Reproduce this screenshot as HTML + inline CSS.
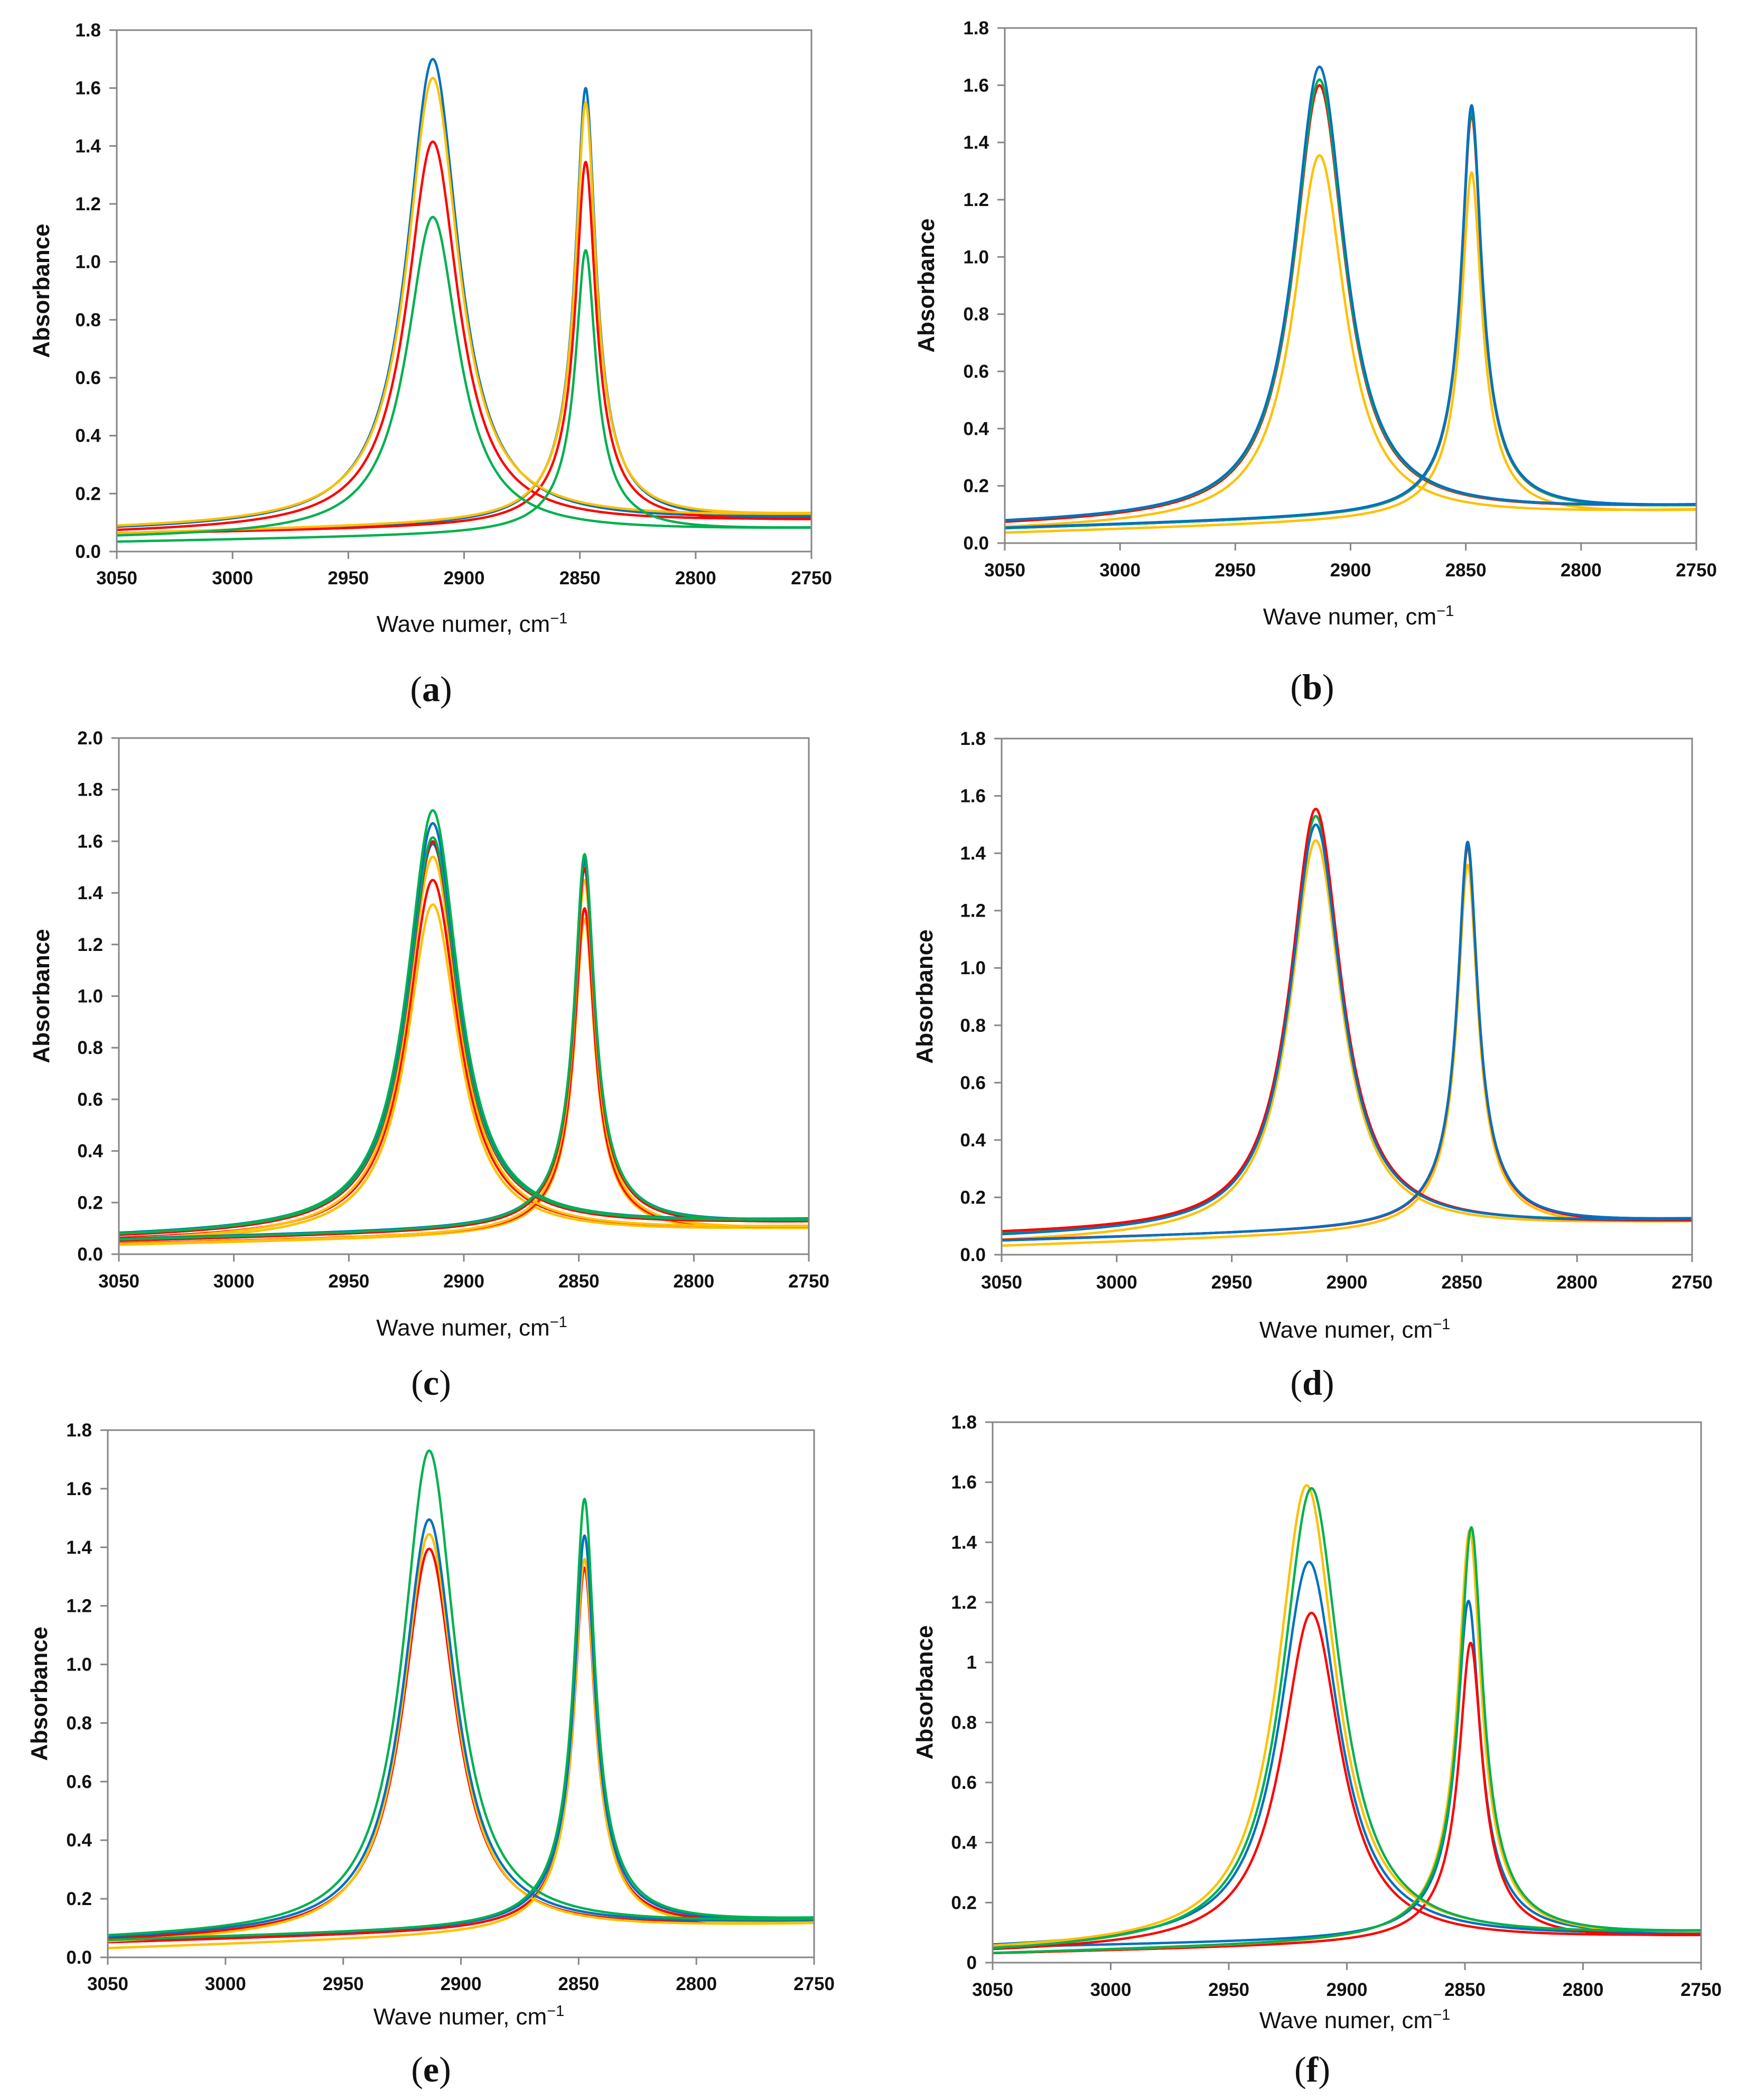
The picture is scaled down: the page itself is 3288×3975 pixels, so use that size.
<!DOCTYPE html>
<html><head><meta charset="utf-8"><style>
html,body{margin:0;padding:0;background:#fff;}
svg{display:block;}
.tick{font-family:"Liberation Sans",sans-serif;font-size:35px;font-weight:bold;fill:#111;}
.xt{font-family:"Liberation Sans",sans-serif;font-size:44px;fill:#111;}
.yt{font-family:"Liberation Sans",sans-serif;font-size:44px;font-weight:bold;fill:#111;}
.pl{font-family:"Liberation Serif",serif;font-size:68px;fill:#111;}
</style></head><body>
<svg id="fig" width="3288" height="3975" viewBox="0 0 3288 3975" xmlns="http://www.w3.org/2000/svg"></svg>
<script>
// ---- data ----
const xTicks = [3050, 3000, 2950, 2900, 2850, 2800, 2750];
const yTicks18 = [0.0, 0.2, 0.4, 0.6, 0.8, 1.0, 1.2, 1.4, 1.6, 1.8];
const yTicks20 = [0.0, 0.2, 0.4, 0.6, 0.8, 1.0, 1.2, 1.4, 1.6, 1.8, 2.0];
const yTickLabelsF = ["0", "0.2", "0.4", "0.6", "0.8", "1", "1.2", "1.4", "1.6", "1.8"];

// panel a
const a_colors = ["blue", "red", "yellow", "green"];
const a_broadPeak = [1.70, 1.415, 1.635, 1.155];
const a_narrowPeak = [1.60, 1.345, 1.55, 1.04];
const a_broadBaseL = [0.070, 0.062, 0.075, 0.045];
const a_broadBaseR = [0.110, 0.105, 0.120, 0.075];
const a_narrowBaseL = [0.060, 0.060, 0.062, 0.033];
const a_narrowBaseR = [0.115, 0.105, 0.125, 0.078];
// panel b
const b_colors = ["yellow", "red", "green", "blue"];
const b_broadPeak = [1.355, 1.60, 1.62, 1.665];
const b_narrowPeak = [1.295, 1.495, 1.51, 1.53];
const b_broadBaseL = [0.045, 0.060, 0.065, 0.065];
const b_broadBaseR = [0.110, 0.125, 0.125, 0.125];
const b_narrowBaseL = [0.035, 0.050, 0.050, 0.052];
const b_narrowBaseR = [0.110, 0.125, 0.125, 0.128];
// panel c
const c_colors = ["yellow", "red", "yellow", "blue", "red", "green", "blue", "green"];
const c_broadPeak = [1.355, 1.45, 1.54, 1.59, 1.60, 1.615, 1.67, 1.72];
const c_narrowPeak = [1.30, 1.34, 1.45, 1.52, 1.495, 1.54, 1.53, 1.55];
const c_broadBaseL = [0.040, 0.050, 0.045, 0.065, 0.060, 0.065, 0.068, 0.065];
const c_broadBaseR = [0.095, 0.100, 0.100, 0.125, 0.120, 0.125, 0.128, 0.125];
const c_narrowBaseL = [0.035, 0.040, 0.038, 0.055, 0.050, 0.055, 0.058, 0.055];
const c_narrowBaseR = [0.095, 0.100, 0.100, 0.125, 0.120, 0.125, 0.128, 0.125];
// panel d
const d_colors = ["yellow", "green", "red", "blue"];
const d_broadPeak = [1.445, 1.53, 1.555, 1.50];
const d_narrowPeak = [1.36, 1.42, 1.43, 1.44];
const d_broadBaseL = [0.040, 0.060, 0.068, 0.058];
const d_broadBaseR = [0.110, 0.115, 0.110, 0.115];
const d_narrowBaseL = [0.030, 0.048, 0.050, 0.048];
const d_narrowBaseR = [0.110, 0.120, 0.115, 0.120];
// panel e
const e_colors = ["red", "yellow", "blue", "green"];
const e_broadPeak = [1.395, 1.445, 1.495, 1.73];
const e_narrowPeak = [1.33, 1.36, 1.44, 1.565];
const e_broadBaseL = [0.052, 0.042, 0.058, 0.060];
const e_broadBaseR = [0.112, 0.108, 0.118, 0.120];
const e_narrowBaseL = [0.050, 0.030, 0.058, 0.058];
const e_narrowBaseR = [0.120, 0.112, 0.125, 0.128];
// panel f
const f_colors = ["blue", "red", "yellow", "green"];
const f_broadPeak = [1.335, 1.165, 1.59, 1.58];
const f_narrowPeak = [1.205, 1.065, 1.44, 1.45];
const f_broadCenter = [2916, 2915, 2917, 2915];
const f_narrowCenter = [2848.5, 2847.6, 2848, 2847.3];
const f_broadBaseL = [0.045, 0.032, 0.038, 0.030];
const f_broadBaseR = [0.090, 0.085, 0.095, 0.095];
const f_narrowBaseL = [0.050, 0.030, 0.030, 0.030];
const f_narrowBaseR = [0.095, 0.085, 0.095, 0.098];

// ---- styling / layout ----
const colorMap = {blue:"#0070C0", red:"#FF0000", green:"#00B050", yellow:"#FFC000"};
const layout = {
  a:{l:221,r:1536,t:57,b:1044,ymax:1.8,yl:77,tx:1093,xl:1180,pl:1305,px:816},
  b:{l:1902,r:3211,t:53,b:1028,ymax:1.8,yl:1752,tx:1078,xl:1166,pl:1301,px:2484},
  c:{l:225,r:1531,t:1397,b:2374,ymax:2.0,yl:77,tx:2424,xl:2512,pl:2618,px:816},
  d:{l:1896,r:3203,t:1398,b:2375,ymax:1.8,yl:1749,tx:2426,xl:2516,pl:2618,px:2484},
  e:{l:204,r:1541,t:2707,b:3705,ymax:1.8,yl:73,tx:3754,xl:3816,pl:3918,px:816},
  f:{l:1879,r:3220,t:2692,b:3715,ymax:1.8,yl:1749,tx:3765,xl:3823,pl:3918,px:2484}
};
const widths = {a:[13.5,5], b:[13.5,5], c:[13.5,5], d:[13.5,5], e:[13.5,5], f:[15,5.6]};
const NS = "http://www.w3.org/2000/svg";
const svg = document.getElementById("fig");
function mk(tag, attrs, parent){
  const el = document.createElementNS(NS, tag);
  for (const k in attrs) el.setAttribute(k, attrs[k]);
  (parent||svg).appendChild(el);
  return el;
}
function lor(x, x0, g){ const u=(x-x0)/g; return 1/(1+u*u); }

function drawPanel(key, colors, bp, np, bbL, bbR, nbL, nbR, bc, nc, yTicks, yLabels){
  const L = layout[key];
  const g = mk("g", {});
  
  
  const xs = v => L.l + (3050 - v) / 300 * (L.r - L.l);
  const ys = v => L.b - v / L.ymax * (L.b - L.t);
  const gw = widths[key];
  const cp = mk("clipPath", {id:"clip-"+key}, g);
  mk("rect", {x:L.l, y:L.t-20, width:L.r-L.l, height:L.b-L.t+20}, cp);
  const cg = mk("g", {"clip-path":"url(#clip-"+key+")"}, g);
  for (let i=0;i<colors.length;i++){
    const x0b = bc ? bc[i] : 2913.5, x0n = nc ? nc[i] : 2847.5;
    const baseAtB = bbL[i] + (bbR[i]-bbL[i])*(3050-x0b)/300;
    const Hb = bp[i] - baseAtB;
    let d = "";
    for (let x=3050; x>=2750; x-=0.5){
      const y = bbL[i] + (bbR[i]-bbL[i])*(3050-x)/300 + Hb*lor(x,x0b,gw[0]);
      d += (d?"L":"M") + xs(x).toFixed(1) + "," + ys(y).toFixed(1);
    }
    const p1 = mk("path", {d:d, fill:"none", stroke:colorMap[colors[i]], "stroke-width":4.5, "stroke-linejoin":"round"}, cg);
    
    
    const baseAtN = nbL[i] + (nbR[i]-nbL[i])*(3050-x0n)/300;
    const Hn = np[i] - baseAtN;
    d = "";
    for (let x=3050; x>=2750; x-=0.25){
      const shape = 0.85*lor(x,x0n,gw[1]) + 0.15*lor(x,x0n,gw[1]*3);
      const y = nbL[i] + (nbR[i]-nbL[i])*(3050-x)/300 + Hn*shape;
      d += (d?"L":"M") + xs(x).toFixed(1) + "," + ys(y).toFixed(1);
    }
    const p2 = mk("path", {d:d, fill:"none", stroke:colorMap[colors[i]], "stroke-width":4.5, "stroke-linejoin":"round"}, cg);
    
    
  }
  const fr = mk("rect", {x:L.l, y:L.t, width:L.r-L.l, height:L.b-L.t, fill:"none", stroke:"#868686", "stroke-width":3}, g);
  
  
  for (let i=0;i<yTicks.length;i++){
    const y = ys(yTicks[i]);
    mk("line", {x1:L.l-14, x2:L.l, y1:y, y2:y, stroke:"#868686", "stroke-width":3}, g);
    const t = mk("text", {x:L.l-30, y:y+12, "text-anchor":"end", class:"tick"}, g);
    t.textContent = yLabels ? yLabels[i] : yTicks[i].toFixed(1);
    
    
  }
  for (let i=0;i<xTicks.length;i++){
    const x = xs(xTicks[i]);
    mk("line", {x1:x, x2:x, y1:L.b, y2:L.b+14, stroke:"#868686", "stroke-width":3}, g);
    const t = mk("text", {x:x, y:L.tx+13, "text-anchor":"middle", class:"tick"}, g);
    t.textContent = xTicks[i];
    
    
  }
  const xt = mk("text", {x:(L.l+L.r)/2+15, y:L.xl+16, "text-anchor":"middle", class:"xt"}, g);
  xt.textContent = "Wave numer, cm";
  const sup = mk("tspan", {dy:-16, "font-size":29}, xt);
  sup.textContent = "\u22121";
  
  
  const ym = (L.t+L.b)/2;
  const yt = mk("text", {x:L.yl, y:ym, "text-anchor":"middle", class:"yt", transform:"rotate(-90 "+L.yl+" "+ym+") translate(0 16)"}, g);
  yt.textContent = "Absorbance";
  
  
  const pl = mk("text", {x:L.px, y:L.pl+22, "text-anchor":"middle", class:"pl"}, g);
  pl.textContent = "(";
  const bold = mk("tspan", {"font-weight":"bold"}, pl);
  bold.textContent = key;
  const close = mk("tspan", {}, pl);
  close.textContent = ")";
  
  
}

drawPanel("a", a_colors, a_broadPeak, a_narrowPeak, a_broadBaseL, a_broadBaseR, a_narrowBaseL, a_narrowBaseR, null, null, yTicks18, null);
drawPanel("b", b_colors, b_broadPeak, b_narrowPeak, b_broadBaseL, b_broadBaseR, b_narrowBaseL, b_narrowBaseR, null, null, yTicks18, null);
drawPanel("c", c_colors, c_broadPeak, c_narrowPeak, c_broadBaseL, c_broadBaseR, c_narrowBaseL, c_narrowBaseR, null, null, yTicks20, null);
drawPanel("d", d_colors, d_broadPeak, d_narrowPeak, d_broadBaseL, d_broadBaseR, d_narrowBaseL, d_narrowBaseR, null, null, yTicks18, null);
drawPanel("e", e_colors, e_broadPeak, e_narrowPeak, e_broadBaseL, e_broadBaseR, e_narrowBaseL, e_narrowBaseR, null, null, yTicks18, null);
drawPanel("f", f_colors, f_broadPeak, f_narrowPeak, f_broadBaseL, f_broadBaseR, f_narrowBaseL, f_narrowBaseR, f_broadCenter, f_narrowCenter, yTicks18, yTickLabelsF);
</script>
</body></html>
